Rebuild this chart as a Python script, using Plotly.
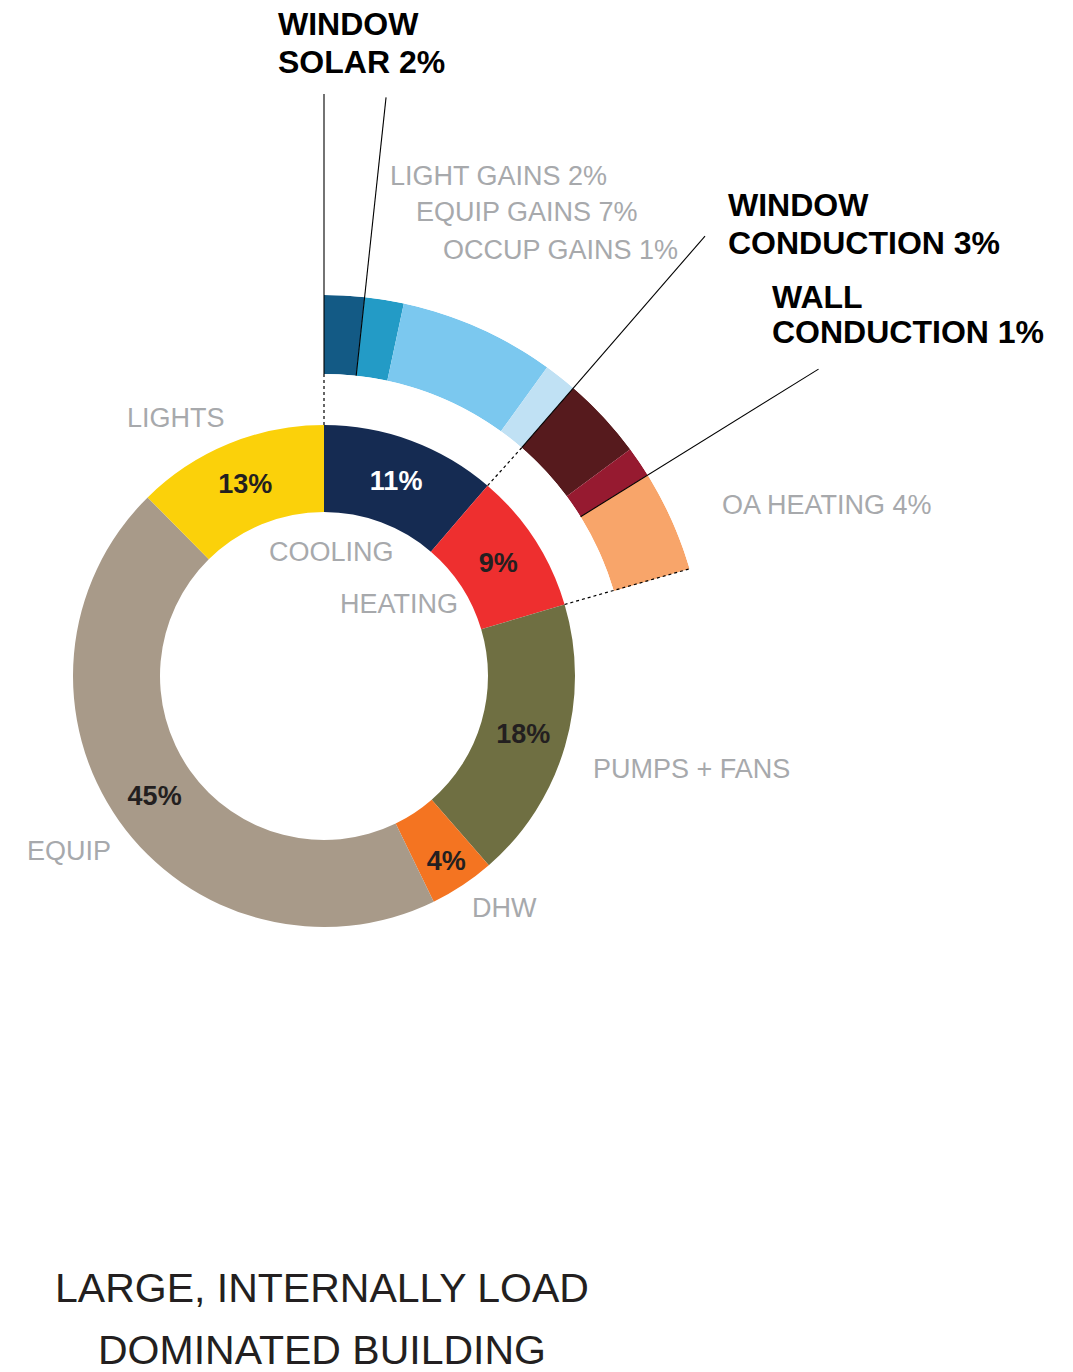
import numpy as np
import plotly.graph_objects as go

# ---------------- data ----------------
main_labels = ["COOLING", "HEATING", "PUMPS + FANS", "DHW", "EQUIP", "LIGHTS"]
main_values = [11.3, 9.1, 18.2, 4.2, 44.8, 12.4]
main_text = ["11%", "9%", "18%", "4%", "45%", "13%"]

detail_labels = ["WINDOW SOLAR", "LIGHT GAINS", "EQUIP GAINS", "OCCUP GAINS",
                 "WINDOW CONDUCTION", "WALL CONDUCTION", "OA HEATING"]
detail_values = [1.7, 1.66, 6.6, 1.4, 3.5, 1.3, 4.3]
detail_text = ["2%", "2%", "7%", "1%", "3%", "1%", "4%"]
detail_group = ["COOLING"] * 4 + ["HEATING"] * 3

title_lines = ["LARGE, INTERNALLY LOAD", "DOMINATED BUILDING"]

# ---------------- styles ----------------
main_colors = ["#152b52", "#ee2f2f", "#6f6f42", "#f47421", "#a89a89", "#fbd10a"]
main_text_colors = ["#ffffff", "#231f20", "#231f20", "#231f20", "#231f20", "#231f20"]
detail_colors = ["#135a85", "#239bc6", "#7bc8ef", "#c0e1f4", "#561a1d", "#961a30", "#f8a56a"]

W, H = 1073, 1372
CX, CY = 324, 676
R_MAIN, R_MAIN_IN = 251, 164
R_DET_IN, R_DET = 302, 381
R_LEADER = 582
GRAY = "#a7a9ac"
DARK = "#231f20"
FONT = "Liberation Sans, Arial, sans-serif"


def px(x):
    return x / W


def py(y):
    return (H - y) / H


def pt(pct, r):
    a = np.radians(pct * 3.6)
    return CX + r * np.sin(a), CY - r * np.cos(a)


fig = go.Figure()

# main donut
fig.add_trace(go.Pie(
    values=main_values, labels=main_labels, text=main_text, textinfo="text",
    sort=False, direction="clockwise", rotation=0,
    hole=R_MAIN_IN / R_MAIN,
    marker=dict(colors=main_colors, line=dict(width=0)),
    textposition="inside", insidetextorientation="horizontal",
    insidetextfont=dict(family=FONT, size=27, color=main_text_colors, weight="bold"),
    domain=dict(x=[px(CX - R_MAIN), px(CX + R_MAIN)], y=[py(CY + R_MAIN), py(CY - R_MAIN)]),
    showlegend=False, hoverinfo="label+text",
))

# detail ring (breakdown of cooling + heating)
cum = np.concatenate([[0], np.cumsum(detail_values)])
dv = np.array(detail_values)
fig.add_trace(go.Barpolar(
    r=[1] * len(dv), base=0,
    theta=(cum[:-1] + dv / 2) * 3.6, width=dv * 3.6,
    marker=dict(color=detail_colors, line=dict(width=0)),
    text=[f"{l} {t}" for l, t in zip(detail_labels, detail_text)],
    hoverinfo="text", showlegend=False, subplot="polar",
))

fig.update_layout(
    width=W, height=H, margin=dict(l=0, r=0, t=0, b=0),
    paper_bgcolor="white", plot_bgcolor="white",
    polar=dict(
        domain=dict(x=[px(CX), px(CX + R_DET)], y=[py(CY), py(CY - R_DET)]),
        sector=[0, 90], hole=R_DET_IN / R_DET, bgcolor="rgba(0,0,0,0)",
        radialaxis=dict(visible=False, range=[0, 1]),
        angularaxis=dict(visible=False, rotation=90, direction="clockwise"),
    ),
)

shapes = []


def line(p0, p1, dash="solid", width=1.1, color="black"):
    shapes.append(dict(type="line", xref="paper", yref="paper",
                       x0=px(p0[0]), y0=py(p0[1]), x1=px(p1[0]), y1=py(p1[1]),
                       line=dict(color=color, width=width, dash=dash)))


# leader lines for bold labels (radial, along slice boundaries)
for idx in [0, 1, 4, 6]:
    line(pt(cum[idx], R_DET_IN), pt(cum[idx], R_LEADER))

# dotted connectors between main ring and detail ring
main_cum = np.concatenate([[0], np.cumsum(main_values)])
n_cool = detail_group.count("COOLING")
line(pt(0, R_MAIN), pt(0, R_DET_IN), dash="dot", width=1.2)
line(pt(main_cum[1], R_MAIN), pt(cum[n_cool], R_DET_IN), dash="dot", width=1.2)
line(pt(main_cum[2], R_MAIN), pt(cum[-1], R_DET), dash="dot", width=1.2)

annotations = []


def label(x, y, text, size=27, color=GRAY, bold=False, xanchor="left"):
    annotations.append(dict(x=px(x), y=py(y), xref="paper", yref="paper", text=text,
                            showarrow=False, xanchor=xanchor, yanchor="middle",
                            font=dict(family=FONT, size=size, color=color,
                                      weight="bold" if bold else "normal")))


# gray labels
label(388, 176, f"{detail_labels[1]} {detail_text[1]}")
label(414, 212, f"{detail_labels[2]} {detail_text[2]}")
label(441, 250, f"{detail_labels[3]} {detail_text[3]}")
label(720, 505, f"{detail_labels[6]} {detail_text[6]}")
label(125, 418, main_labels[5])
label(267, 552, main_labels[0])
label(338, 604, main_labels[1])
label(591, 769, main_labels[2])
label(25, 851, main_labels[4])
label(470, 908, main_labels[3])

# bold black labels
label(276, 24, "WINDOW", size=32, color="black", bold=True)
label(276, 62, f"SOLAR {detail_text[0]}", size=32, color="black", bold=True)
label(726, 205, "WINDOW", size=32, color="black", bold=True)
label(726, 243, f"CONDUCTION {detail_text[4]}", size=32, color="black", bold=True)
label(770, 297, "WALL", size=32, color="black", bold=True)
label(770, 332, f"CONDUCTION {detail_text[5]}", size=32, color="black", bold=True)

# title
label(322, 1288, title_lines[0], size=41, color=DARK, xanchor="center")
label(322, 1350, title_lines[1], size=41, color=DARK, xanchor="center")

fig.update_layout(shapes=shapes, annotations=annotations)

fig.write_html("out.html", config={"displayModeBar": False},
               post_script="document.body.style.margin='0';")
